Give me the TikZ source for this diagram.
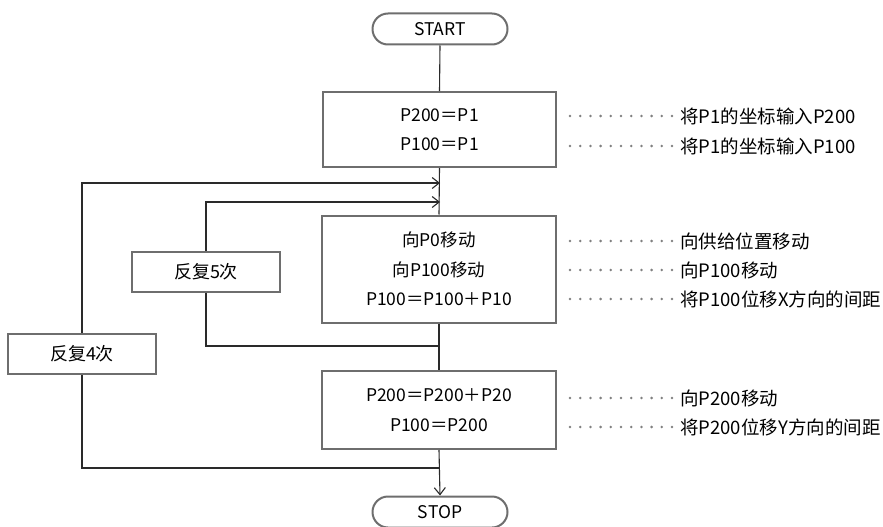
\documentclass[tikz,border=0pt]{standalone}
\usepackage{fontspec}
\setmainfont{Noto Sans CJK SC}
\usetikzlibrary{arrows.meta}
\definecolor{boxgray}{HTML}{6E6E6E}
\definecolor{linedark}{HTML}{2A2A2A}
\definecolor{dotgray}{HTML}{808080}
\tikzset{
  procbox/.style={draw=boxgray, line width=2pt, fill=white, align=center,
    font=\fontsize{17.5}{29.5}\selectfont, inner sep=0pt},
  termbox/.style={draw=boxgray, line width=2pt, fill=white, rounded corners=15.5pt,
    minimum width=135pt, minimum height=31pt, font=\fontsize{17.5}{20}\selectfont, inner sep=0pt},
  loopbox/.style={draw=boxgray, line width=2pt, fill=white, minimum width=148pt,
    minimum height=40pt, font=\fontsize{18}{20}\selectfont, inner sep=0pt},
  conn/.style={draw=linedark, line width=1.1pt},
  arr/.style={conn, -{Straight Barb[length=7pt, width=11pt, line width=1.1pt]}},
  dotline/.style={draw=dotgray, line width=2.8pt, line cap=round, dash pattern=on 0pt off 10.2pt},
  cmt/.style={anchor=west, font=\fontsize{18.5}{20}\selectfont, inner sep=0pt}
}
\begin{document}
\begin{tikzpicture}[x=1pt, y=-1pt]
\useasboundingbox (0,0) rectangle (883,527);

% terminals
\node[termbox] (start) at (440,29) {START};
\node[termbox] (stop) at (440,512) {STOP};

% process boxes
\node[procbox, minimum width=233pt, minimum height=75pt] (b1) at (439.5,129.5)
  {P200＝P1\\P100＝P1};
\node[procbox, minimum width=234pt, minimum height=107pt] (b2) at (439,269)
  {向P0移动\\向P100移动\\P100＝P100＋P10};
\node[procbox, minimum width=234pt, minimum height=78pt] (b3) at (439,410)
  {P200＝P200＋P20\\P100＝P200};

% loop boxes
\node[loopbox] (r5) at (206,271.5) {反复5次};
\node[loopbox] (r4) at (82,354) {反复4次};

% junction coordinates on the main line
\coordinate (j1) at (440,183);
\coordinate (j2) at (440,202);
\coordinate (j3) at (440,346);
\coordinate (j4) at (440,468);

% main flow
\draw[conn] (start.south) -- (b1.north);
\draw[conn] (b1.south) -- (b2.north);
\draw[conn] (b2.south) -- (b3.north);
\draw[arr] (b3.south) -- (stop.north);

% loops
\draw[arr] (r4.north) |- (j1);
\draw[arr] (r5.north) |- (j2);
\draw[conn] (r5.south) |- (j3);
\draw[conn] (r4.south) |- (j4);

% comments
\node[cmt] (c1) at (680,116) {将P1的坐标输入P200};
\node[cmt] (c2) at (680,146) {将P1的坐标输入P100};
\node[cmt] (c3) at (680,241) {向供给位置移动};
\node[cmt] (c4) at (680,270) {向P100移动};
\node[cmt] (c5) at (680,299) {将P100位移X方向的间距};
\node[cmt] (c6) at (680,398) {向P200移动};
\node[cmt] (c7) at (680,427) {将P200位移Y方向的间距};

\foreach \i/\y in {1/116,2/146,3/241,4/270,5/299,6/398,7/427}{
  \coordinate (d\i) at (570,\y);
  \draw[dotline] (d\i) -- ([xshift=-6pt]c\i.west);
}
\end{tikzpicture}
\end{document}
